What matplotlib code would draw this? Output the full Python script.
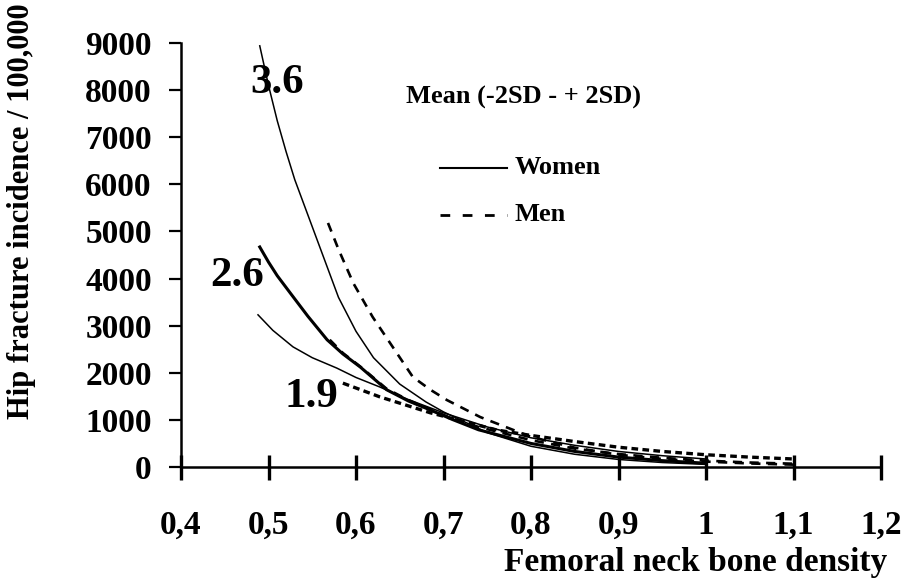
import matplotlib
matplotlib.use("Agg")
import matplotlib.pyplot as plt

# Women curves (relative risk per SD: 3.6, 2.6, 1.9)
w36_x = [0.49, 0.50, 0.51, 0.52, 0.53, 0.545, 0.56, 0.58, 0.60, 0.62, 0.65, 0.68, 0.70,
         0.75, 0.80, 0.85, 0.90, 0.95, 1.00]
w36_y = [8940, 8100, 7350, 6700, 6100, 5350, 4600, 3600, 2880, 2320, 1760, 1380, 1170,
         730, 440, 270, 160, 95, 55]

w26_x = [0.49, 0.50, 0.51, 0.525, 0.545, 0.567, 0.585, 0.605, 0.635, 0.66, 0.685, 0.71,
         0.74, 0.80, 0.85, 0.90, 0.95, 1.00]
w26_y = [4670, 4350, 4060, 3690, 3200, 2700, 2400, 2120, 1640, 1400, 1210, 1010,
         790, 500, 330, 210, 135, 80]

w19_x = [0.488, 0.505, 0.528, 0.55, 0.578, 0.60, 0.627, 0.66, 0.70, 0.75, 0.80, 0.85,
         0.90, 0.95, 1.00]
w19_y = [3230, 2900, 2550, 2320, 2100, 1900, 1700, 1430, 1150, 850, 620, 460,
         330, 240, 170]

# Men curves
m36_x = [0.568, 0.58, 0.597, 0.619, 0.639, 0.665, 0.685, 0.704, 0.742, 0.80, 0.85,
         0.90, 0.95, 1.00, 1.05, 1.10]
m36_y = [5180, 4620, 3900, 3185, 2630, 1910, 1640, 1420, 1060, 640, 410,
         260, 170, 115, 75, 50]

m26_x = [0.57, 0.585, 0.605, 0.635, 0.66, 0.685, 0.71, 0.74, 0.80, 0.85, 0.90, 0.95,
         1.00, 1.05, 1.10]
m26_y = [2700, 2420, 2130, 1660, 1420, 1220, 1030, 850, 570, 390, 275, 195,
         135, 95, 70]

m19_x = [0.585, 0.627, 0.685, 0.761, 0.80, 0.85, 0.90, 0.95, 1.00, 1.05, 1.10]
m19_y = [1780, 1490, 1150, 785, 670, 540, 420, 330, 260, 210, 170]

x_ticks = [0.4, 0.5, 0.6, 0.7, 0.8, 0.9, 1.0, 1.1, 1.2]
x_tick_labels = ["0,4", "0,5", "0,6", "0,7", "0,8", "0,9", "1", "1,1", "1,2"]
y_ticks = [0, 1000, 2000, 3000, 4000, 5000, 6000, 7000, 8000, 9000]

serif = ["Liberation Serif", "DejaVu Serif"]
plt.rcParams["font.family"] = serif
plt.rcParams["font.weight"] = "bold"

fig = plt.figure(figsize=(9.06, 5.87), dpi=100)
ax = fig.add_axes([181/906, 1-467/587, (881-181)/906, (467-43)/587])

k = "black"
men_dash = (0, (3.5, 2.8))
ax.plot(w36_x, w36_y, color=k, lw=1.1)
ax.plot(w26_x, w26_y, color=k, lw=2.2)
ax.plot(w19_x, w19_y, color=k, lw=1.1)
ax.plot(m36_x, m36_y, color=k, lw=1.9, linestyle=men_dash)
ax.plot(m26_x, m26_y, color=k, lw=1.9, linestyle=men_dash)
ax.plot(m19_x, m19_y, color=k, lw=2.4, linestyle=(0, (2.0, 1.3)))

ax.set_xlim(0.4, 1.2)
ax.set_ylim(0, 9000)
ax.set_xticks(x_ticks)
ax.set_xticklabels(x_tick_labels)
ax.set_yticks(y_ticks)
ax.set_yticklabels([str(v) for v in y_ticks])

for s in ["top", "right"]:
    ax.spines[s].set_visible(False)
for s in ["left", "bottom"]:
    ax.spines[s].set_linewidth(1.8)

ax.tick_params(axis="x", direction="inout", length=18, width=2.4, pad=22, labelsize=24)
ax.tick_params(axis="y", direction="out", length=9, width=1.6, pad=12, labelsize=24)
for lab in ax.get_xticklabels() + ax.get_yticklabels():
    lab.set_fontweight("bold")

fig.text(22/906, 1-211/587, "Hip fracture incidence / 100,000", rotation=90,
         ha="center", va="center", fontsize=22, fontweight="bold")
fig.text(887/906, 1-563/587, "Femoral neck bone density", ha="right", va="center",
         fontsize=24, fontweight="bold")

ax.text(0.51, 8150, "3.6", fontsize=31, fontweight="bold", ha="center", va="center")
ax.text(0.464, 4055, "2.6", fontsize=31, fontweight="bold", ha="center", va="center")
ax.text(0.549, 1490, "1.9", fontsize=31, fontweight="bold", ha="center", va="center")

ax.text(0.657, 7835, "Mean (-2SD - + 2SD)", fontsize=19, fontweight="bold", ha="left", va="center")
ax.plot([0.696, 0.773], [6350, 6350], color=k, lw=1.5)
ax.text(0.781, 6350, "Women", fontsize=19, fontweight="bold", ha="left", va="center")
ax.plot([0.696, 0.773], [5350, 5350], color=k, lw=2.0, linestyle=(0, (3.5, 4.5)))
ax.text(0.781, 5350, "Men", fontsize=19, fontweight="bold", ha="left", va="center")

fig.savefig("out.png", dpi=100)
